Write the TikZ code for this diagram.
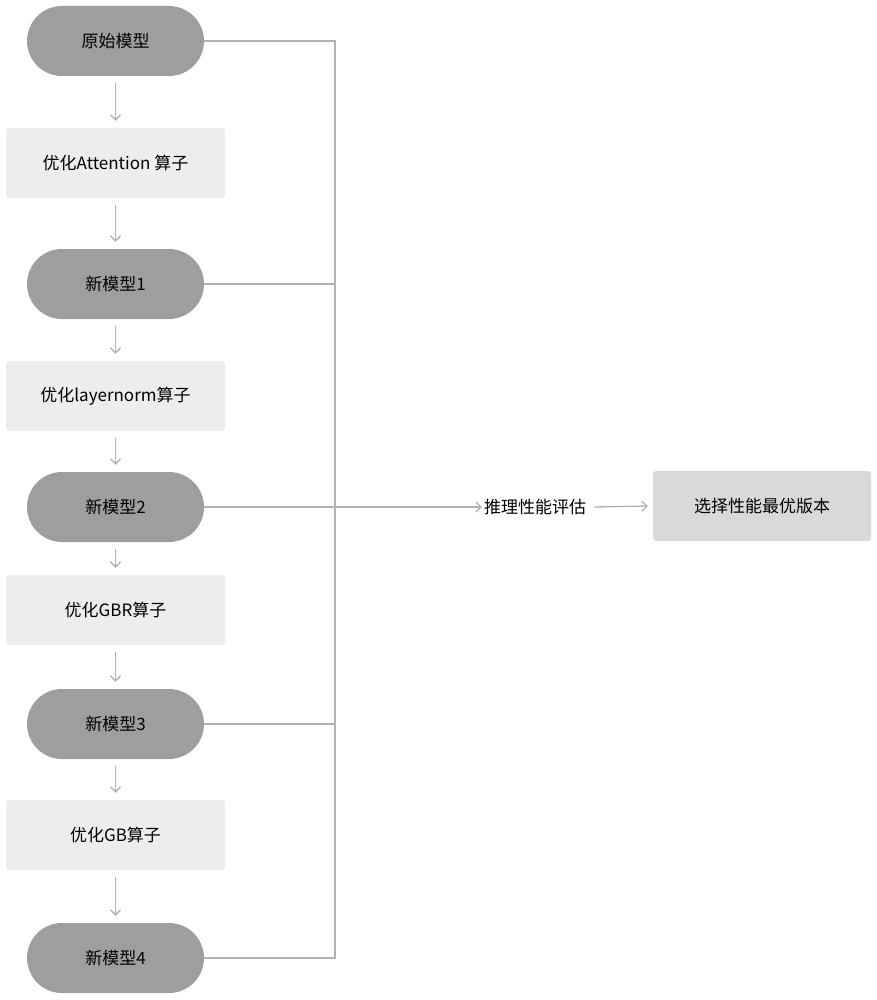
\documentclass[tikz,border=0pt]{standalone}
\usepackage{fontspec}
\setmainfont{Noto Sans CJK SC}
\usetikzlibrary{arrows.meta}
\begin{document}
\begin{tikzpicture}[x=1pt,y=-1pt,
  pill/.style={draw=none,fill=black!38,rounded corners=35pt,minimum width=177pt,minimum height=70pt,inner sep=0pt,font=\fontsize{17}{20}\selectfont},
  opbox/.style={draw=none,fill=black!7,rounded corners=3pt,minimum width=219pt,minimum height=70pt,inner sep=0pt,font=\fontsize{17}{20}\selectfont},
  endbox/.style={draw=none,fill=black!15,rounded corners=3pt,minimum width=218pt,minimum height=70pt,inner sep=0pt,font=\fontsize{17}{20}\selectfont},
  ln/.style={draw=black!30,line width=1.3pt},
  arr/.style={ln,-{Straight Barb[length=5pt,width=10pt]}}]
\useasboundingbox (0,0) rectangle (877,1000);
\node[pill] (m0) at (115.5,41) {原始模型};
\node[opbox] (o1) at (115.5,163) {优化Attention 算子};
\node[pill] (m1) at (115.5,284) {新模型1};
\node[opbox] (o2) at (115.5,396) {优化layernorm算子};
\node[pill] (m2) at (115.5,507) {新模型2};
\node[opbox] (o3) at (115.5,610) {优化GBR算子};
\node[pill] (m3) at (115.5,724) {新模型3};
\node[opbox] (o4) at (115.5,835) {优化GB算子};
\node[pill] (m4) at (115.5,958) {新模型4};
\node[font=\fontsize{17}{20}\selectfont,inner sep=2pt] (ev) at (535,507) {推理性能评估};
\node[endbox] (best) at (762,506) {选择性能最优版本};
\foreach \a/\b in {m0/o1,o1/m1,m1/o2,o2/m2,m2/o3,o3/m3,m3/o4,o4/m4}
  \draw[arr] ([yshift=-7pt]\a.south) -- ([yshift=7pt]\b.north);
\coordinate (t) at (335,41);
\coordinate (b) at (335,958);
\coordinate (j) at (335,507);
\draw[ln] (m0.east) -- (t) -- (b) -- (m4.east);
\draw[ln] (m1.east) -- (335,284);
\draw[ln] (m3.east) -- (335,724);
\draw[arr] (m2.east) -- (ev.west);
\draw[arr] ([xshift=6pt]ev.east) -- ([xshift=-5pt]best.west);
\end{tikzpicture}
\end{document}
